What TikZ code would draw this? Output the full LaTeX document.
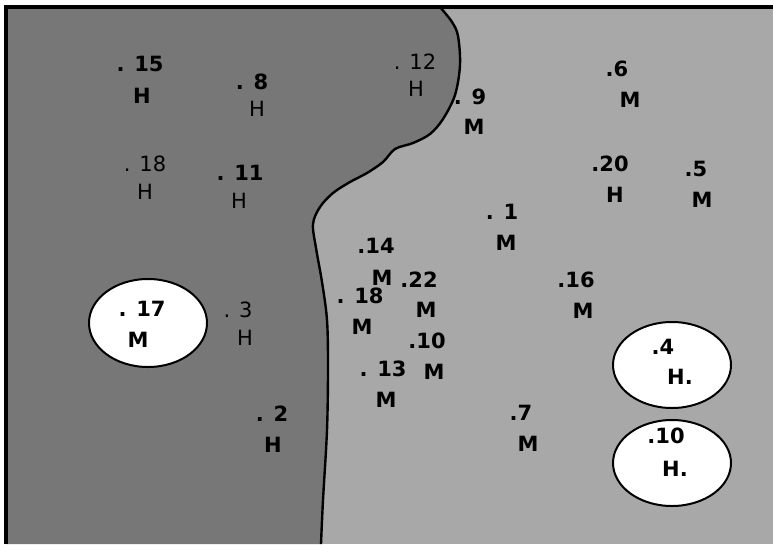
\documentclass[tikz,border=0pt]{standalone}
\usepackage{fontspec}
\setmainfont{DejaVu Sans}

\definecolor{darkzone}{RGB}{119,119,119}
\definecolor{lightzone}{RGB}{168,168,168}

\tikzset{
  lbl/.style={font=\bfseries\fontsize{21}{21}\selectfont, inner sep=0pt},
  lbllight/.style={font=\fontsize{21}{21}\selectfont, inner sep=0pt}
}

\begin{document}
\begin{tikzpicture}[x=1pt, y=-1pt]

\useasboundingbox (0,0) rectangle (773,544);

% Light zone (whole field)
\fill[lightzone] (6,7) rectangle (773,544);

% Dark zone on the left
\fill[darkzone] (6,7) -- plot[smooth, tension=0.55] coordinates {(440,7) (452,22) (458,36) (460,65) (455,95) (443,119) (430,134) (413,143) (395,149) (383,162) (367,173) (350,182) (333,193) (320,207) (313,224) (316,248) (322,282) (327,320) (328,367) (327,430) (323,500) (321,544)}
  -- (6,544) -- cycle;

% Boundary
\draw[line width=2.4pt] plot[smooth, tension=0.55] coordinates {(440,7) (452,22) (458,36) (460,65) (455,95) (443,119) (430,134) (413,143) (395,149) (383,162) (367,173) (350,182) (333,193) (320,207) (313,224) (316,248) (322,282) (327,320) (328,367) (327,430) (323,500) (321,544)};

% Frame (top and left)
\draw[line width=3.5pt] (4,7) -- (773,7);
\draw[line width=3.5pt] (6,7) -- (6,544);

% White ellipses
\draw[fill=white, line width=2pt] (148,323) ellipse (59 and 44);
\draw[fill=white, line width=2pt] (672,365) ellipse (59 and 43);
\draw[fill=white, line width=2pt] (672,463) ellipse (59 and 43);

% Dark zone labels
\node[lbl] (n15) at (140,64) {. 15};
\node[lbl] (c15) at (142,96) {H};
\node[lbl] (n8) at (252,82) {. 8};
\node[lbllight] (c8) at (257,109) {H};
\node[lbllight] (n18a) at (145,164) {. 18};
\node[lbllight] (c18a) at (145,192) {H};
\node[lbl] (n11) at (240,173) {. 11};
\node[lbllight] (c11) at (239,201) {H};
\node[lbllight] (n12) at (415,62) {. 12};
\node[lbllight] (c12) at (416,89) {H};
\node[lbl] (n17) at (142,309) {. 17};
\node[lbl] (c17) at (138,340) {M};
\node[lbllight] (n3) at (238,310) {. 3};
\node[lbllight] (c3) at (245,338) {H};
\node[lbl] (n2) at (272,414) {. 2};
\node[lbl] (c2) at (273,445) {H};

% Light zone labels
\node[lbl] (n9) at (470,97) {. 9};
\node[lbl] (c9) at (474,127) {M};
\node[lbl] (n6) at (617,69) {.6};
\node[lbl] (c6) at (630,100) {M};
\node[lbl] (n20) at (610,164) {.20};
\node[lbl] (c20) at (615,195) {H};
\node[lbl] (n5) at (696,169) {.5};
\node[lbl] (c5) at (702,200) {M};
\node[lbl] (n1) at (502,212) {. 1};
\node[lbl] (c1) at (506,243) {M};
\node[lbl] (n14) at (376,246) {.14};
\node[lbl] (c14) at (382,278) {M};
\node[lbl] (n22) at (419,280) {.22};
\node[lbl] (c22) at (426,310) {M};
\node[lbl] (n18b) at (360,296) {. 18};
\node[lbl] (c18b) at (362,327) {M};
\node[lbl] (n16) at (576,280) {.16};
\node[lbl] (c16) at (583,311) {M};
\node[lbl] (n10a) at (427,341) {.10};
\node[lbl] (c10a) at (434,372) {M};
\node[lbl] (n13) at (383,369) {. 13};
\node[lbl] (c13) at (386,400) {M};
\node[lbl] (n7) at (521,413) {.7};
\node[lbl] (c7) at (528,444) {M};
\node[lbl] (n4) at (663,347) {.4};
\node[lbl] (c4) at (680,377) {H.};
\node[lbl] (n10b) at (666,436) {.10};
\node[lbl] (c10b) at (675,469) {H.};

\end{tikzpicture}
\end{document}
